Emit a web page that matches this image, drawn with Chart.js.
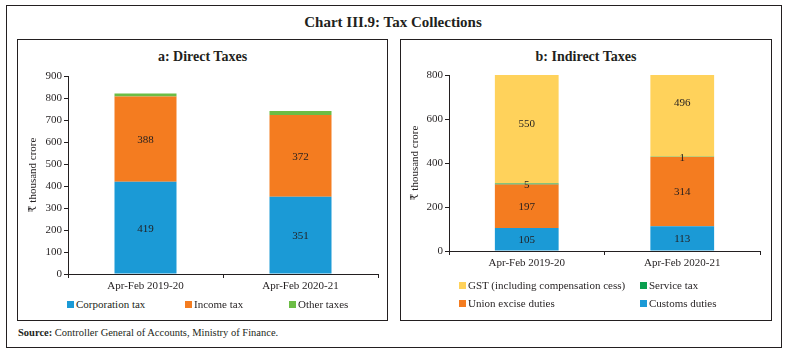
<!DOCTYPE html>
<html>
<head>
<meta charset="utf-8">
<script src="https://cdn.jsdelivr.net/npm/chart.js@4"></script>
<style>
  body { margin: 0; background: #fff; font-family: 'Liberation Serif', 'DejaVu Serif', serif; color: #231f20; }
  .frame { position: absolute; left: 6px; top: 5px; width: 774px; height: 341px; border: 1px solid #231f20; }
  .panel { position: absolute; top: 39px; height: 280px; border: 1px solid #231f20; }
  .title { position: absolute; left: 0; width: 786px; top: 14px; text-align: center; font-size: 15px; font-weight: bold; }
  .sub { position: absolute; top: 49px; text-align: center; font-size: 14px; font-weight: bold; }
  .chartbox { position: absolute; }
  .legend { position: absolute; font-size: 11px; white-space: nowrap; }
  .legend span.box { display: inline-block; width: 7px; height: 7px; margin-right: 2px; vertical-align: 0px; }
  .source { position: absolute; left: 18px; top: 327px; font-size: 10.5px; }
</style>
</head>
<body>
<div class="frame"></div>
<div class="title">Chart III.9: Tax Collections</div>
<div class="panel" style="left:17px;width:369px;"></div>
<div class="panel" style="left:400px;width:370px;"></div>
<div class="sub" style="left:17px;width:371px;">a: Direct Taxes</div>
<div class="sub" style="left:400px;width:372px;">b: Indirect Taxes</div>

<div class="chartbox" style="left:18px;top:64px;width:368px;height:232px;"><canvas id="direct"></canvas></div>
<div class="chartbox" style="left:401px;top:64px;width:369px;height:209px;"><canvas id="indirect"></canvas></div>

<div id="legendDirect"></div>
<div id="legendIndirect"></div>

<div class="source"><b>Source:</b> Controller General of Accounts, Ministry of Finance.</div>

<script>
// categories
const periods = ['Apr-Feb 2019-20', 'Apr-Feb 2020-21'];

// a: direct taxes (₹ thousand crore)
const corporationTax = [419, 351];
const incomeTax = [388, 372];
const otherTaxes = [14, 18];
const directTicks = { min: 0, max: 900, step: 100 };

// b: indirect taxes (₹ thousand crore)
const customsDuties = [105, 113];
const unionExcise = [197, 314];
const serviceTax = [5, 1];
const gst = [550, 496];
const indirectTicks = { min: 0, max: 800, step: 200 };

const BLUE = '#1b9ad6', ORANGE = '#f47c20', LIGHT_GREEN = '#6cbd45', YELLOW = '#ffd25b', GREEN = '#0a9f4f';
const FONT = "'Liberation Serif', 'DejaVu Serif', serif";

Chart.defaults.font.family = FONT;
Chart.defaults.font.size = 11;
Chart.defaults.color = '#231f20';

// write each value in the middle of its stacked segment
const valueLabels = {
  id: 'valueLabels',
  afterDatasetsDraw(chart) {
    const ctx = chart.ctx;
    ctx.save();
    ctx.font = '11px ' + FONT;
    ctx.fillStyle = '#231f20';
    ctx.textAlign = 'center';
    ctx.textBaseline = 'middle';
    chart.data.datasets.forEach((ds, i) => {
      if (!ds.showValues) return;
      chart.getDatasetMeta(i).data.forEach((bar, j) => {
        ctx.fillText(ds.data[j], bar.x, (bar.y + bar.base) / 2 + 1);
      });
    });
    ctx.restore();
  }
};

const buildOptions = (ticks, yWidth, titlePad, padRight, padTop) => ({
  responsive: true,
  maintainAspectRatio: false,
  animation: false,
  layout: { padding: { top: padTop, right: padRight, bottom: 0, left: 0 } },
  plugins: { legend: { display: false }, tooltip: { enabled: false } },
  scales: {
    x: {
      stacked: true,
      grid: { display: true, drawOnChartArea: false, drawTicks: true, tickLength: 4, color: '#231f20' },
      border: { display: true, color: '#231f20', width: 1 },
      ticks: { padding: 2, color: '#231f20', maxRotation: 0 },
      afterFit: scale => { scale.height = 22; }
    },
    y: {
      stacked: true,
      min: ticks.min,
      max: ticks.max,
      grid: { display: true, drawOnChartArea: false, drawTicks: true, tickLength: 4, color: '#231f20' },
      border: { display: true, color: '#231f20', width: 1 },
      ticks: { stepSize: ticks.step, padding: 2, color: '#231f20' },
      title: { display: true, text: '₹ thousand crore', padding: { top: titlePad, bottom: 0 }, font: { size: 11 } },
      afterFit: scale => { scale.width = yWidth; }
    }
  }
});

const directChart = new Chart(document.getElementById('direct'), {
  type: 'bar',
  data: {
    labels: periods,
    datasets: [
      { label: 'Corporation tax', data: corporationTax, backgroundColor: BLUE, showValues: true },
      { label: 'Income tax', data: incomeTax, backgroundColor: ORANGE, showValues: true },
      { label: 'Other taxes', data: otherTaxes, backgroundColor: LIGHT_GREEN }
    ].map(d => ({ ...d, barPercentage: 0.4, categoryPercentage: 1 }))
  },
  options: buildOptions(directTicks, 50, 9, 8, 12),
  plugins: [valueLabels]
});

const indirectChart = new Chart(document.getElementById('indirect'), {
  type: 'bar',
  data: {
    labels: periods,
    datasets: [
      { label: 'Customs duties', data: customsDuties, backgroundColor: BLUE, showValues: true },
      { label: 'Union excise duties', data: unionExcise, backgroundColor: ORANGE, showValues: true },
      { label: 'Service tax', data: serviceTax, backgroundColor: GREEN, showValues: true },
      { label: 'GST (including compensation cess)', data: gst, backgroundColor: YELLOW, showValues: true }
    ].map(d => ({ ...d, barPercentage: 0.41, categoryPercentage: 1 }))
  },
  options: buildOptions(indirectTicks, 48, 8, 10, 11),
  plugins: [valueLabels]
});

// html legends built from the chart datasets
const makeLegend = (chart, id, spots) => {
  const holder = document.getElementById(id);
  chart.data.datasets.forEach(ds => {
    const [x, y] = spots[ds.label];
    const item = document.createElement('div');
    item.className = 'legend';
    item.style.left = x + 'px';
    item.style.top = (y - 7) + 'px';
    item.innerHTML = '<span class="box" style="background:' + ds.backgroundColor + '"></span>' + ds.label;
    holder.appendChild(item);
  });
};

makeLegend(directChart, 'legendDirect', {
  'Corporation tax': [67, 305],
  'Income tax': [185, 305],
  'Other taxes': [289, 305]
});
makeLegend(indirectChart, 'legendIndirect', {
  'GST (including compensation cess)': [459, 286],
  'Service tax': [640, 286],
  'Union excise duties': [459, 304],
  'Customs duties': [640, 304]
});
</script>
</body>
</html>
